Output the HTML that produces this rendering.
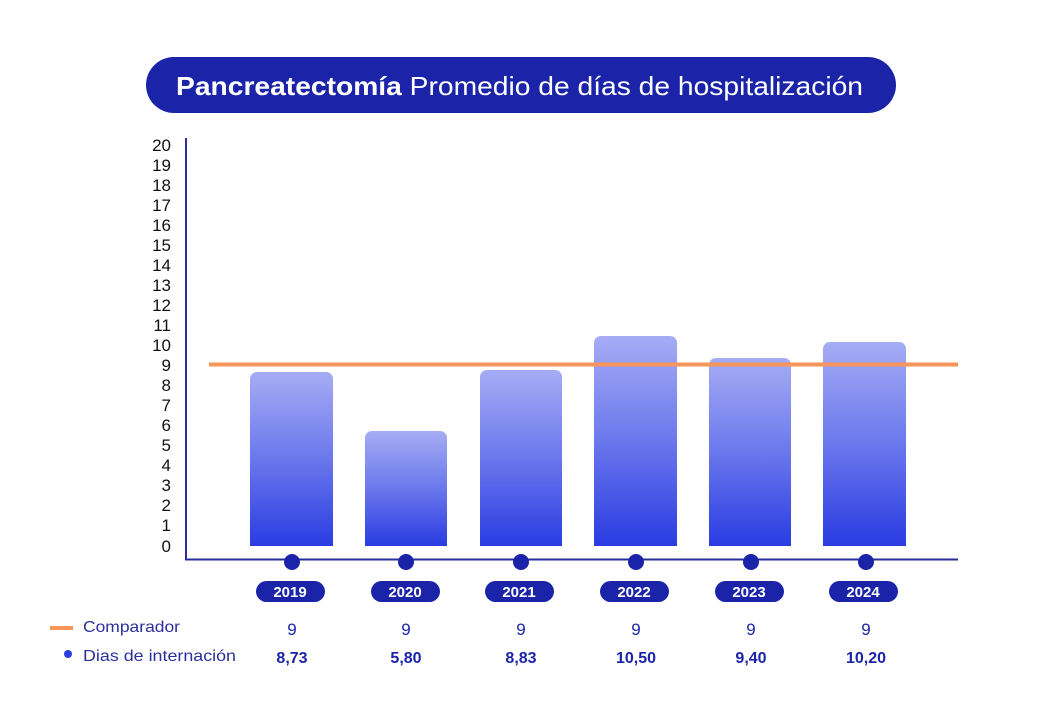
<!DOCTYPE html>
<html><head><meta charset="utf-8"><style>
body{margin:0;background:#fff;}
svg{display:block;font-family:"Liberation Sans",sans-serif;}
</style></head><body>
<svg width="1042" height="708" viewBox="0 0 1042 708">
<defs><linearGradient id="g" x1="0" y1="0" x2="0" y2="1"><stop offset="0" stop-color="#a6acf4"/><stop offset="0.5" stop-color="#6a78ec"/><stop offset="1" stop-color="#2a3ce2"/></linearGradient></defs>
<rect x="146" y="57" width="750" height="56" rx="28" fill="#1b24a8"/>
<text x="176" y="95" font-size="26" fill="#fff" textLength="687" lengthAdjust="spacingAndGlyphs"><tspan font-weight="bold">Pancreatectomía</tspan> Promedio de días de hospitalización</text>
<g font-size="17" fill="#111" text-anchor="end">
<text x="171" y="151">20</text><text x="171" y="171">19</text><text x="171" y="191">18</text><text x="171" y="211">17</text><text x="171" y="231">16</text><text x="171" y="251">15</text><text x="171" y="271">14</text><text x="171" y="291">13</text><text x="171" y="311">12</text><text x="171" y="331">11</text><text x="171" y="351">10</text><text x="171" y="371">9</text><text x="171" y="391">8</text><text x="171" y="411">7</text><text x="171" y="431">6</text><text x="171" y="451">5</text><text x="171" y="471">4</text><text x="171" y="491">3</text><text x="171" y="511">2</text><text x="171" y="531">1</text><text x="171" y="552">0</text>
</g>
<polyline points="186,138 186,559.5 958,559.5" fill="none" stroke="#2a2f9c" stroke-width="2"/>
<g fill="url(#g)">
<path d="M250,546V379a7,7 0 0 1 7,-7H326a7,7 0 0 1 7,7V546z"/>
<path d="M365,546V438a7,7 0 0 1 7,-7H440a7,7 0 0 1 7,7V546z"/>
<path d="M480,546V377a7,7 0 0 1 7,-7H555a7,7 0 0 1 7,7V546z"/>
<path d="M594,546V343a7,7 0 0 1 7,-7H670a7,7 0 0 1 7,7V546z"/>
<path d="M709,546V365a7,7 0 0 1 7,-7H784a7,7 0 0 1 7,7V546z"/>
<path d="M823,546V349a7,7 0 0 1 7,-7H899a7,7 0 0 1 7,7V546z"/>
</g>
<line x1="209" y1="364.5" x2="958" y2="364.5" stroke="#f7955a" stroke-width="4"/>
<g fill="#1b24a8">
<circle cx="292" cy="562" r="8"/><circle cx="406" cy="562" r="8"/><circle cx="521" cy="562" r="8"/><circle cx="636" cy="562" r="8"/><circle cx="751" cy="562" r="8"/><circle cx="866" cy="562" r="8"/>
<rect x="256" y="581" width="69" height="21" rx="10.5"/><rect x="371" y="581" width="69" height="21" rx="10.5"/><rect x="485" y="581" width="69" height="21" rx="10.5"/><rect x="600" y="581" width="69" height="21" rx="10.5"/><rect x="715" y="581" width="69" height="21" rx="10.5"/><rect x="829" y="581" width="69" height="21" rx="10.5"/>
</g>
<g font-size="15" font-weight="bold" fill="#fff" text-anchor="middle">
<text x="290" y="597">2019</text><text x="405" y="597">2020</text><text x="519" y="597">2021</text><text x="634" y="597">2022</text><text x="749" y="597">2023</text><text x="863" y="597">2024</text>
</g>
<line x1="50" y1="628" x2="73" y2="628" stroke="#f7955a" stroke-width="4"/>
<circle cx="68" cy="654" r="4" fill="#2a3ce2"/>
<g font-size="16" fill="#2a2f9c">
<text x="83" y="632" textLength="97" lengthAdjust="spacingAndGlyphs">Comparador</text><text x="83" y="661" textLength="153" lengthAdjust="spacingAndGlyphs">Dias de internación</text>
</g>
<g font-size="17" fill="#1b24a8" text-anchor="middle">
<text x="292" y="635">9</text><text x="406" y="635">9</text><text x="521" y="635">9</text><text x="636" y="635">9</text><text x="751" y="635">9</text><text x="866" y="635">9</text>
<g font-weight="bold" font-size="16"><text x="292" y="663">8,73</text><text x="406" y="663">5,80</text><text x="521" y="663">8,83</text><text x="636" y="663">10,50</text><text x="751" y="663">9,40</text><text x="866" y="663">10,20</text></g>
</g>
</svg>
</body></html>
